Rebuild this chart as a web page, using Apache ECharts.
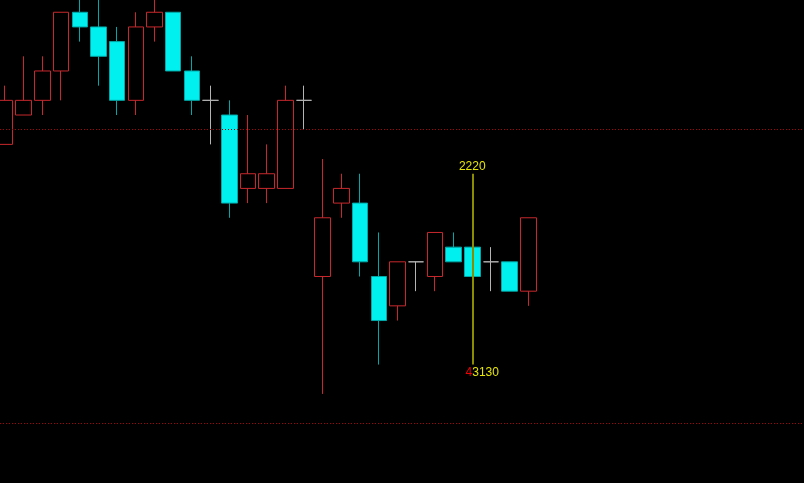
<!DOCTYPE html>
<html>
<head>
<meta charset="utf-8">
<script src="https://cdn.jsdelivr.net/npm/echarts@6/dist/echarts.min.js"></script>
<style>
html,body{margin:0;padding:0;background:#000;}
#chart{width:804px;height:483px;}
</style>
</head>
<body>
<div id="chart"></div>
<script>
// Category slots (one per bar)
var categories = ['1','2','3','4','5','6','7','8','9','10','11','12','13','14','15','16','17','18','19','20','21','22',
  '23','24','25','26','27','28','29'];

// OHLC values as [open, close, low, high]
var opens  = [119,121,122,124,128,127,126,122,127,128,124,122,121,116,116,116,122,110,115,115,110,108,111,110,112,112,111,111,109];
var closes = [122,122,124,128,127,125,122,127,128,124,122,122,115,117,117,122,122,114,116,111,107,111,111,113,111,110,111,109,114];
var lows   = [119,121,121,122,126,123,121,121,126,124,121,119,114,115,115,116,120,102,114,110,104,107,109,109,111,110,109,109,108];
var highs  = [123,125,125,128,129.5,129.5,127,128,129.5,128,125,123,122,121,119,123,123,118,117,117,113,111,111,113,113,112,112,111,114];

// Reference levels (dotted lines)
var refLevels = [120, 100];

// Marker line at bar 26 with its labels
var markerIndex = 25;
var markerTop = 117;
var markerBottom = 104;
var markerTopText = '2220';
var markerBottomPrefix = '4';
var markerBottomText = '3130';

var ohlc = opens.map(function (o, i) { return [o, closes[i], lows[i], highs[i]]; });

var yMin = 95.933, yMax = 128.835;

var chart = echarts.init(document.getElementById('chart'), null, {renderer: 'canvas'});
chart.setOption({
  backgroundColor: '#000000',
  animation: false,
  grid: [
    {left: 5, top: 0, width: 28 * 18.69, height: 483},
    {left: 0, top: 0, right: 0, height: 483}
  ],
  xAxis: [
    {type: 'category', gridIndex: 0, data: categories, boundaryGap: false, show: false},
    {type: 'value', gridIndex: 1, min: 0, max: 1, show: false, splitLine: {show: false}}
  ],
  yAxis: [
    {type: 'value', gridIndex: 0, min: yMin, max: yMax, show: false, splitLine: {show: false}},
    {type: 'value', gridIndex: 1, min: yMin, max: yMax, show: false, splitLine: {show: false}}
  ],
  series: [{
    type: 'line',
    xAxisIndex: 1,
    yAxisIndex: 1,
    data: [],
    markLine: {
      silent: true,
      symbol: 'none',
      label: {show: false},
      lineStyle: {color: '#b00000', type: [1, 2], width: 1},
      data: [{yAxis: refLevels[0]}, {yAxis: refLevels[1]}]
    }
  }, {
    type: 'candlestick',
    xAxisIndex: 0,
    yAxisIndex: 0,
    data: ohlc,
    barWidth: 16,
    clip: false,
    itemStyle: {
      color: '#000000',
      color0: '#00f0f0',
      borderColor: '#c8282d',
      borderColor0: '#00a8a8',
      borderColorDoji: '#b4b4b4',
      borderWidth: 1
    },
    markLine: {
      silent: true,
      symbol: 'none',
      label: {show: false},
      data: [
        [
          {coord: [markerIndex, markerTop], lineStyle: {color: '#8c8c00', type: 'solid', width: 2}},
          {coord: [markerIndex, markerBottom]}
        ]
      ]
    },
    markPoint: {
      silent: true,
      symbol: 'circle',
      symbolSize: 0,
      data: [
        {
          coord: [markerIndex, markerTop],
          label: {
            show: true,
            position: 'top',
            distance: 1,
            formatter: markerTopText,
            color: '#e6e600',
            fontFamily: 'Liberation Sans',
            fontSize: 12
          }
        },
        {
          coord: [markerIndex, markerBottom],
          label: {
            show: true,
            position: 'bottom',
            distance: 2,
            offset: [10, 0],
            formatter: '{r|' + markerBottomPrefix + '}{y|' + markerBottomText + '}',
            fontFamily: 'Liberation Sans',
            fontSize: 12,
            rich: {
              r: {color: '#f00000', fontFamily: 'Liberation Sans', fontSize: 12},
              y: {color: '#e6e600', fontFamily: 'Liberation Sans', fontSize: 12}
            }
          }
        }
      ]
    }
  }]
});
</script>
</body>
</html>
